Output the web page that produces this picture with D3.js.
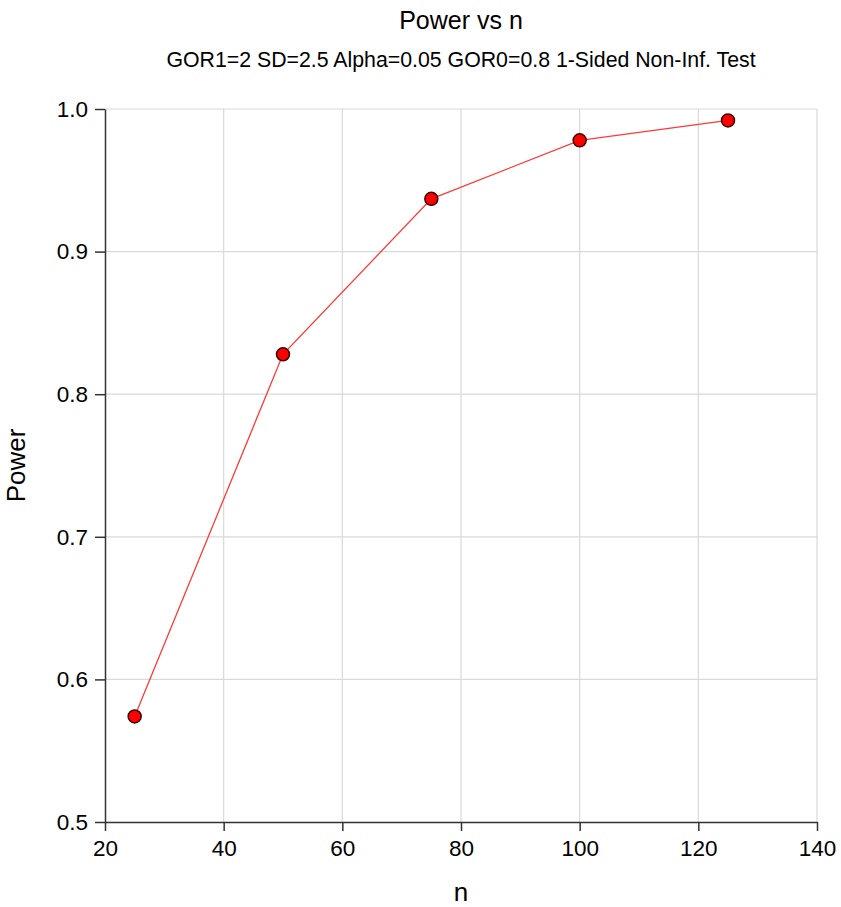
<!DOCTYPE html>
<html>
<head>
<meta charset="utf-8">
<script src="https://cdn.jsdelivr.net/npm/d3@7"></script>
<style>
  html, body { margin: 0; padding: 0; background: #fff; }
  svg text { font-family: "Liberation Sans", Arial, sans-serif; fill: #000; }
</style>
</head>
<body>
<svg id="chart" width="841" height="907"></svg>
<script>
const nValues = [25, 50, 75, 100, 125];
const powerValues = [0.574, 0.828, 0.937, 0.978, 0.992];
const xTicks = [20, 40, 60, 80, 100, 120, 140];
const yTicks = [0.5, 0.6, 0.7, 0.8, 0.9, 1.0];
const titleText = "Power vs n";
const subtitleText = "GOR1=2 SD=2.5 Alpha=0.05 GOR0=0.8 1-Sided Non-Inf. Test";
const xLabel = "n";
const yLabel = "Power";

const svg = d3.select("#chart");
const m = { left: 105, right: 841 - 817, top: 109, bottom: 907 - 822 };
const W = 841, H = 907;

const x = d3.scaleLinear().domain([20, 140]).range([m.left, W - m.right]);
const y = d3.scaleLinear().domain([0.5, 1.0]).range([H - m.bottom, m.top]);

// grid
const grid = svg.append("g");
grid.selectAll(".gx").data(xTicks.slice(1)).join("line")
  .attr("x1", d => x(d)).attr("x2", d => x(d))
  .attr("y1", y(0.5)).attr("y2", y(1.0))
  .attr("stroke", "#d9d9d9").attr("stroke-width", 1.2);
grid.selectAll(".gy").data(yTicks.slice(1)).join("line")
  .attr("y1", d => y(d)).attr("y2", d => y(d))
  .attr("x1", x(20)).attr("x2", x(140))
  .attr("stroke", "#d9d9d9").attr("stroke-width", 1.2);

// axes
const xAxis = d3.axisBottom(x).tickValues(xTicks).tickFormat(d3.format("d")).tickSizeInner(9).tickSizeOuter(0).tickPadding(9);
const yAxis = d3.axisLeft(y).tickValues(yTicks).tickFormat(d3.format(".1f")).tickSizeInner(10).tickSizeOuter(0).tickPadding(7);

const gx = svg.append("g").attr("transform", `translate(0,${y(0.5)})`).call(xAxis);
const gy = svg.append("g").attr("transform", `translate(${x(20)},0)`).call(yAxis);
[gx, gy].forEach(g => {
  g.select(".domain").attr("stroke", "#333").attr("stroke-width", 1.5);
  g.selectAll(".tick line").attr("stroke", "#333").attr("stroke-width", 1.5);
  g.selectAll(".tick text").attr("font-size", 22.5).attr("font-family", "Liberation Sans, Arial, sans-serif").attr("fill", "#000");
});

// line
const line = d3.line().x((d, i) => x(nValues[i])).y(d => y(d));
svg.append("path").datum(powerValues)
  .attr("d", line).attr("fill", "none")
  .attr("stroke", "#ff3a3a").attr("stroke-width", 1.3);

// points
svg.selectAll(".pt").data(powerValues).join("circle")
  .attr("cx", (d, i) => x(nValues[i])).attr("cy", d => y(d))
  .attr("r", 6.5).attr("fill", "#ff0000")
  .attr("stroke", "#3a0000").attr("stroke-width", 1.5);

// titles
const cx = (x(20) + x(140)) / 2;
svg.append("text").attr("x", cx).attr("y", 29).attr("text-anchor", "middle")
  .attr("font-size", 25).text(titleText);
svg.append("text").attr("x", cx).attr("y", 67).attr("text-anchor", "middle")
  .attr("font-size", 21.3).text(subtitleText);
svg.append("text").attr("x", cx).attr("y", 901).attr("text-anchor", "middle")
  .attr("font-size", 26).text(xLabel);
svg.append("text")
  .attr("transform", `translate(25,${(y(0.5) + y(1.0)) / 2}) rotate(-90)`)
  .attr("text-anchor", "middle").attr("font-size", 26).text(yLabel);
</script>
</body>
</html>
